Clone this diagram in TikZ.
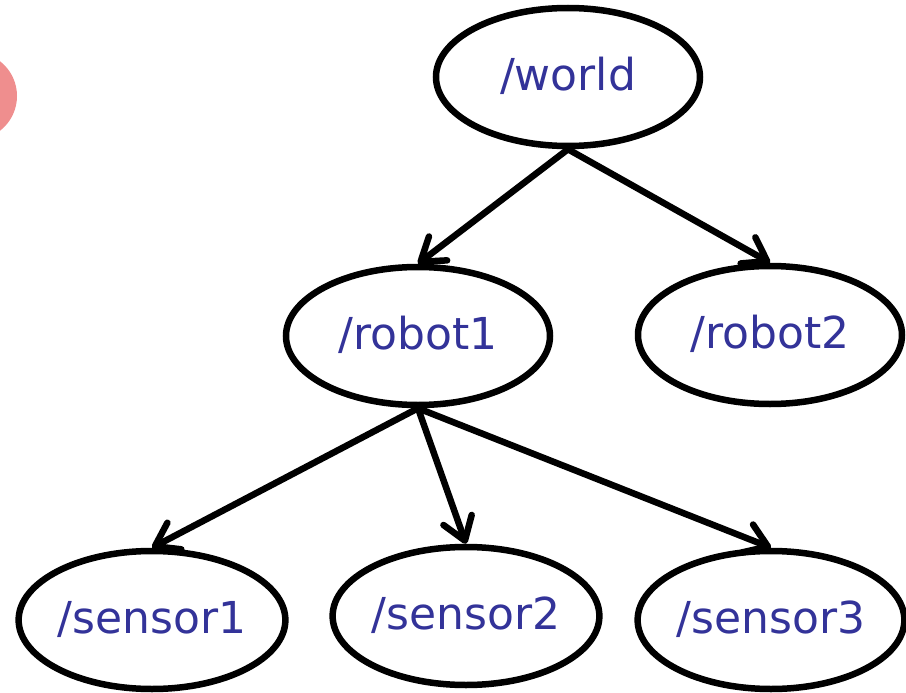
\documentclass[tikz,border=0pt]{standalone}
\usepackage{fontspec}
\setmainfont{DejaVu Sans}
\usetikzlibrary{shapes.geometric,arrows.meta}
\definecolor{labelblue}{HTML}{333399}
\definecolor{blobpink}{HTML}{EF8E8E}
\tikzset{
  frame/.style={ellipse, draw=black, line width=6.5pt, fill=white,
    minimum width=264pt, minimum height=138pt, inner sep=0pt,
    text=labelblue, font=\fontsize{44}{50}\selectfont,
    text height=31pt, text depth=4pt},
  link/.style={line width=6.5pt, line cap=round,
    -{Straight Barb[length=22pt,width=30pt,round]}}
}
\begin{document}
\begin{tikzpicture}[x=1pt,y=-1pt]
  \useasboundingbox (0,0) rectangle (906,693);
  \begin{scope}
    \clip (0,0) rectangle (906,693);
    \fill[blobpink] (-27,96) circle[radius=44pt];
  \end{scope}

  \node[frame] (world)   at (568,77)  {/world};
  \node[frame] (robot1)  at (418,336) {/robot1};
  \node[frame] (robot2)  at (770,335) {/robot2};
  \node[frame] (sensor1) at (152,620) {/sensor1};
  \node[frame] (sensor2) at (466,616) {/sensor2};
  \node[frame] (sensor3) at (771,620) {/sensor3};

  \draw[link] (world.south)  -- (robot1.north);
  \draw[link] (world.south)  -- (robot2.north);
  \draw[link] (robot1.south) -- (sensor1.north);
  \draw[link] (robot1.south) -- (sensor2.north);
  \draw[link] (robot1.south) -- (sensor3.north);
\end{tikzpicture}
\end{document}
